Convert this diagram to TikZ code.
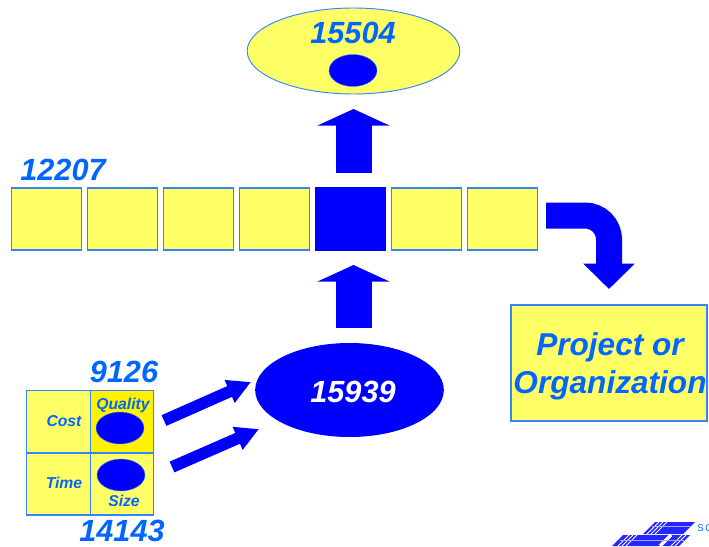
\documentclass[tikz,border=0pt]{standalone}
\usepackage{fontspec}
\setmainfont{Liberation Sans}
\usetikzlibrary{arrows.meta,shapes.geometric}
\definecolor{paleyel}{HTML}{FFFF66}
\definecolor{txtblue}{HTML}{0066FF}
\definecolor{edgeblue}{HTML}{3385FF}
\tikzset{
cellbox/.style={
	  draw=edgeblue, line width=0.9pt, fill=paleyel, inner sep=0pt,
	    minimum width=53pt, minimum height=46.5pt},
spot/.style={
	  ellipse, draw=edgeblue, line width=0.3pt, fill=blue, inner sep=0pt,
	    minimum width=36pt, minimum height=24pt},
num/.style={
	  text=txtblue, inner sep=0pt, font=\bfseries\itshape\fontsize{23}{23}\selectfont},
tag/.style={
	  text=txtblue, inner sep=0pt, font=\bfseries\itshape\fontsize{11.8}{12}\selectfont},
blockup/.style={
	  blue, line width=27pt, -{Triangle[length=12.5pt, width=54pt]}},
blockdiag/.style={
	  blue, line width=8.8pt, -{Triangle[length=17.5pt, width=17.5pt]}},
blockbend/.style={
	  blue, line width=19.5pt, -{Triangle[length=19pt, width=37.5pt]}}
}

\begin{document}
\begin{tikzpicture}[x=0.75pt, y=-0.75pt]
	\useasboundingbox (0,0) rectangle (709,546);

	% top ellipse
	\node[ellipse, draw=edgeblue, line width=0.7pt, fill=paleyel, inner sep=0pt,
		minimum width=159.5pt, minimum height=64.5pt] (goal) at (353.5,51) {};
	\node[spot] (goalspot) at (353,70.5) {};
	\node[num] (goalnum) at (353,33) {15504};

	% row of boxes
	\node[cellbox] (cella) at (46.5,219) {};
	\node[cellbox] (cellb) at (122.5,219) {};
	\node[cellbox] (cellc) at (198.5,219) {};
	\node[cellbox] (celld) at (274.5,219) {};
	\node[cellbox, draw=blue, fill=blue] (celle) at (350.5,219) {};
	\node[cellbox] (cellf) at (426.5,219) {};
	\node[cellbox] (cellg) at (502.5,219) {};
	\node[num] (rownum) at (63,170) {12207};

	% source ellipse
	\node[ellipse, fill=blue, inner sep=0pt, minimum width=141.5pt, minimum height=70.5pt] (source) at (349.5,390) {};
	\node[text=white, inner sep=0pt, font=\bfseries\itshape\fontsize{23}{23}\selectfont]
		(sourcenum) at (353,392) {15939};

	% project box
	\node[draw=edgeblue, line width=0.9pt, fill=paleyel, minimum width=147pt, minimum height=87pt,
		inner sep=0pt] (project) at (609,363) {};
	\node[num, font=\bfseries\itshape\fontsize{23.7}{23.7}\selectfont] (projecta) at (610,347) {Project or};
	\node[num, font=\bfseries\itshape\fontsize{23.7}{23.7}\selectfont] (projectb) at (610,385) {Organization};

	% matrix
	\node[cellbox, minimum width=48pt, minimum height=47pt] (cost) at (58.5,421.5) {};
	\node[cellbox, minimum width=47.5pt, minimum height=47pt, fill=yellow] (quality) at (122,421.5) {};
	\node[cellbox, minimum width=48pt, minimum height=46.5pt] (time) at (58.5,484) {};
	\node[cellbox, minimum width=47.5pt, minimum height=46.5pt] (size) at (122,484) {};
	\node[spot] (qualityspot) at (120,428) {};
	\node[spot] (sizespot) at (121,475) {};
	\node[tag] (costtag) at (64,421) {Cost};
	\node[tag] (timetag) at (64,483) {Time};
	\node[tag] (qualitytag) at (123,405) {Quality};
	\node[tag] (sizetag) at (124,501) {Size};
	\node[num] (qualitynum) at (124,372) {9126};
	\node[num] (sizenum) at (122,531) {14143};

	% block arrows
	\coordinate (uptop) at (353.5,109);
	\coordinate (uptail) at (353.5,173);
	\coordinate (lowtop) at (353.5,265);
	\coordinate (lowtail) at (353.5,328);
	\draw[blockup] (uptail) -- (uptop);
	\draw[blockup] (lowtail) -- (lowtop);
	\coordinate (diagatail) at (164,420.5);
	\coordinate (diagatop) at (251,382);
	\coordinate (diagbtail) at (172,467);
	\coordinate (diagbtop) at (259,429);
	\draw[blockdiag] (diagatail) -- (diagatop);
	\draw[blockdiag] (diagbtail) -- (diagbtop);
	\coordinate (bendtail) at (546,215.5);
	\coordinate (bendtop) at (609,289);
	\draw[blockbend] (bendtail) -- (585,215.5) .. controls (598.3,215.5) and (609,226.2) .. (609,239.5) -- (bendtop);

	% logo
	\fill[blue!85!white] (643,534) -- (655,522) -- (695,522) -- (683,534) -- cycle;
	\fill[blue!85!white] (612,546) -- (623,535) -- (690,535) -- (679,546) -- cycle;
	\foreach \x in {647,651,655}
		\draw[white, line width=0.6pt] (\x,534) -- (\x+12,522);
	\foreach \x in {618,622,626,671,675}
		\draw[white, line width=0.6pt] (\x,546) -- (\x+11,535);
	\draw[white, line width=2.5pt] (660,546) -- (671,535);
	\draw[blue!35!white, line width=0.3pt] (652,526) -- (692,526);
	\draw[blue!35!white, line width=0.3pt] (620,540) -- (684,540);
	\node[text=txtblue, inner sep=0pt, anchor=west, font=\fontsize{7.3}{8}\selectfont] (logotext) at (697,528.5) {S\,C};
\end{tikzpicture}
\end{document}
